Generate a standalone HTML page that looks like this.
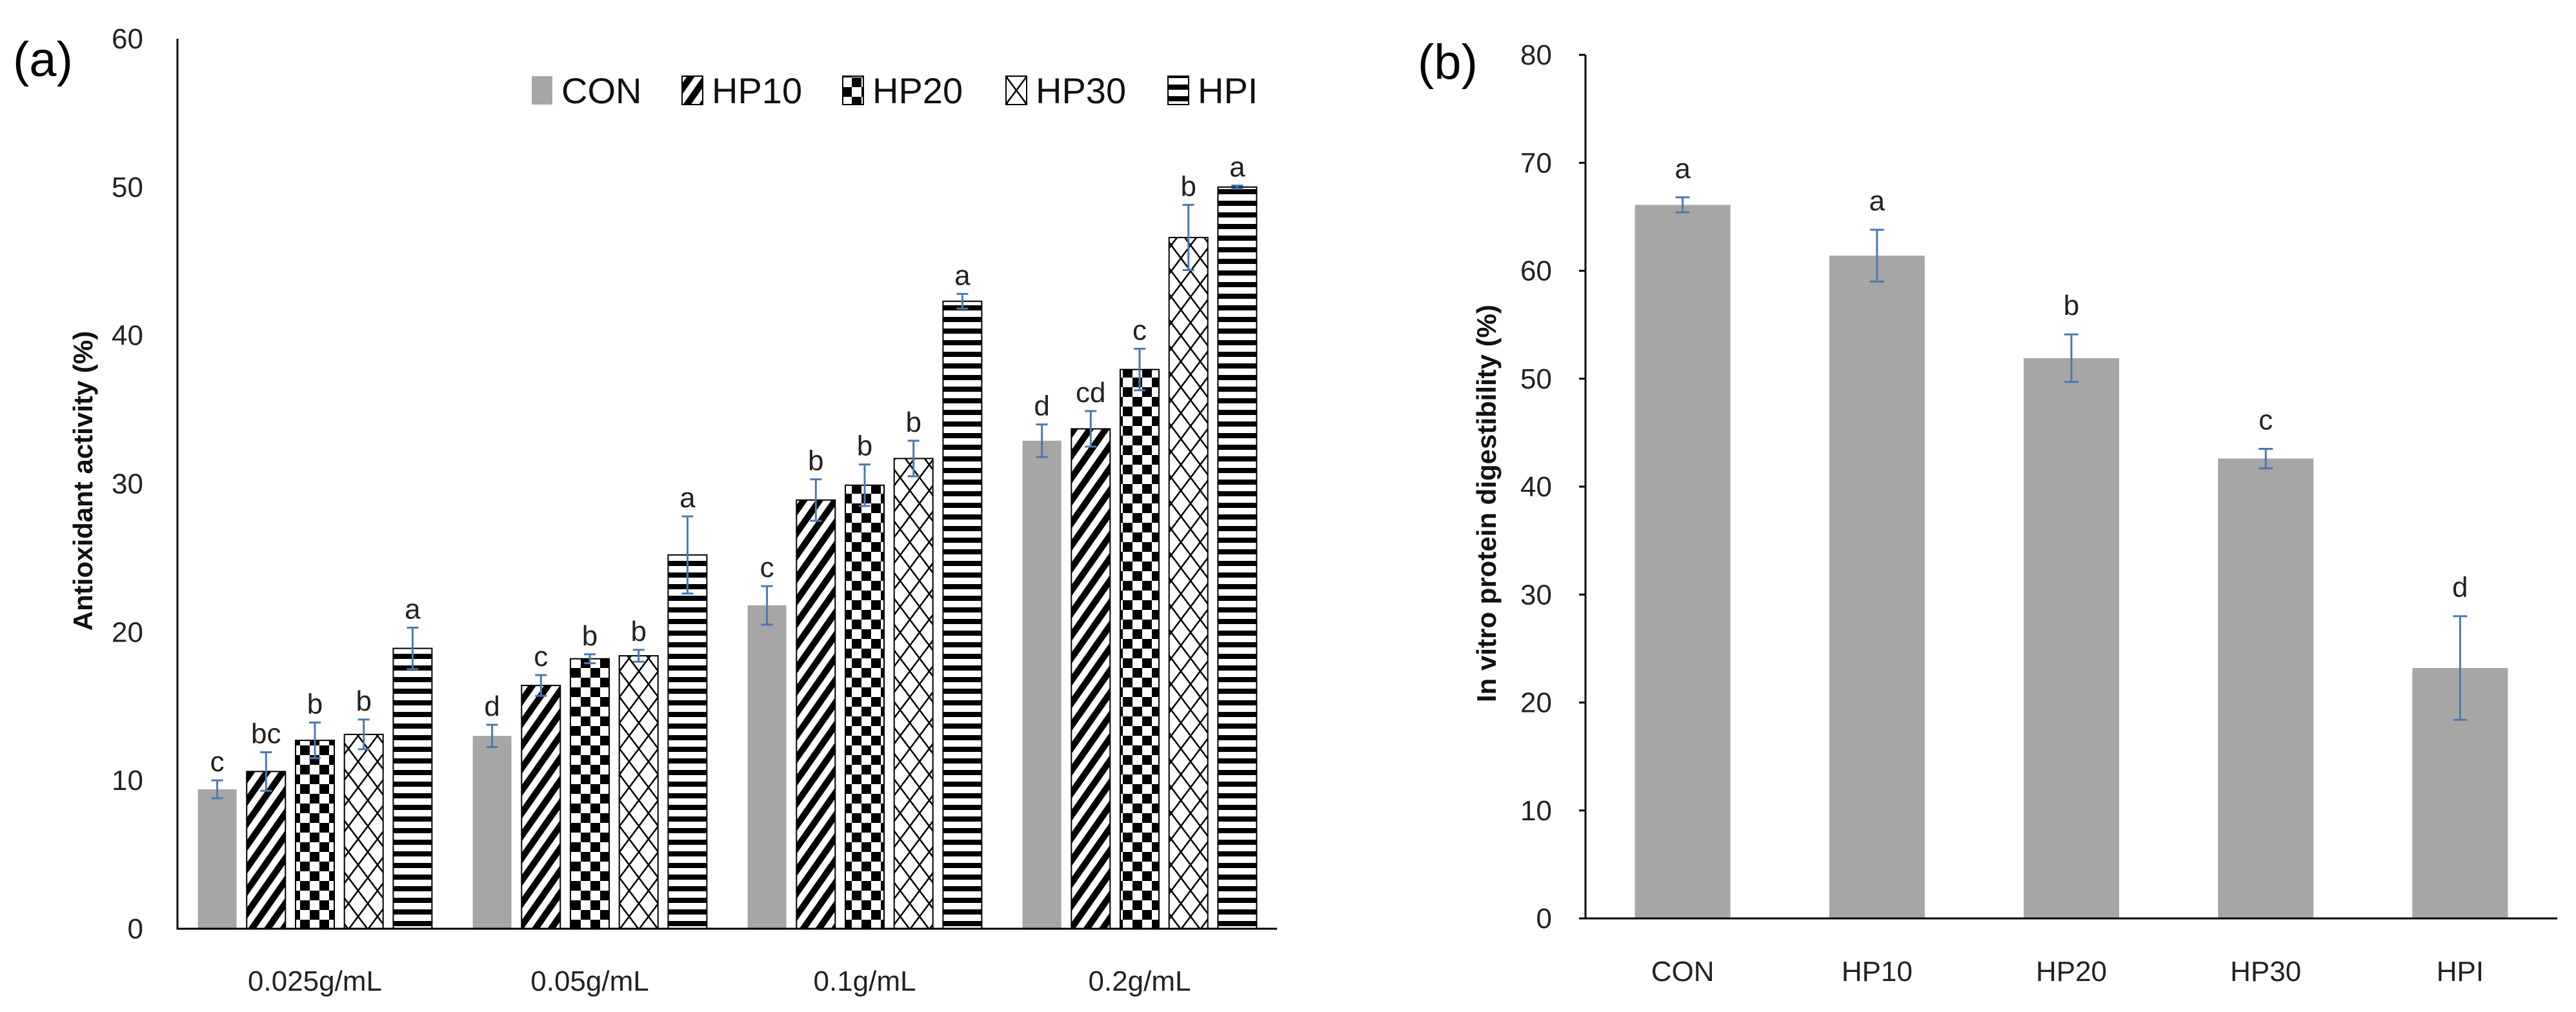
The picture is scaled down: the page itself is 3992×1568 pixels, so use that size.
<!DOCTYPE html>
<html><head><meta charset="utf-8"><style>
html,body{margin:0;padding:0;background:#fff;}
svg{display:block;font-family:"Liberation Sans",sans-serif;}
</style></head><body>
<svg id="chart" width="3992" height="1568" viewBox="0 0 3992 1568" xmlns="http://www.w3.org/2000/svg">
<defs>
<pattern id="pDiag" patternUnits="userSpaceOnUse" width="20" height="20" patternTransform="rotate(35)">
<rect width="20" height="20" fill="#fff"/><rect width="10" height="20" fill="#000"/></pattern>
<pattern id="pCheck" patternUnits="userSpaceOnUse" width="30" height="30">
<rect width="30" height="30" fill="#fff"/><rect width="15" height="15" fill="#000"/><rect x="15" y="15" width="15" height="15" fill="#000"/></pattern>
<pattern id="pCross" patternUnits="userSpaceOnUse" width="30" height="40">
<rect width="30" height="40" fill="#fff"/><path d="M0 0L30 40M30 0L0 40" stroke="#000" stroke-width="2.5"/></pattern>
<pattern id="pHor" patternUnits="userSpaceOnUse" width="20" height="18">
<rect width="20" height="18" fill="#fff"/><rect y="5" width="20" height="8" fill="#000"/></pattern>
</defs>
<g id="panelA"></g>
<g id="panelB"></g>
</svg>
<script>
// Panel (a) data
const aGroups = ["0.025g/mL","0.05g/mL","0.1g/mL","0.2g/mL"];
const aSeries = ["CON","HP10","HP20","HP30","HPI"];
const aCON  = [9.4, 13.0, 21.8, 32.9];
const aHP10 = [10.6, 16.4, 28.9, 33.7];
const aHP20 = [12.7, 18.2, 29.9, 37.7];
const aHP30 = [13.1, 18.4, 31.7, 46.6];
const aHPI  = [18.9, 25.2, 42.3, 50.0];
const aErrCON  = [0.6, 0.75, 1.3, 1.1];
const aErrHP10 = [1.3, 0.7, 1.4, 1.2];
const aErrHP20 = [1.2, 0.3, 1.4, 1.4];
const aErrHP30 = [1.0, 0.4, 1.2, 2.2];
const aErrHPI  = [1.4, 2.6, 0.5, 0.1];
const aLetCON  = ["c","d","c","d"];
const aLetHP10 = ["bc","c","b","cd"];
const aLetHP20 = ["b","b","b","c"];
const aLetHP30 = ["b","b","b","b"];
const aLetHPI  = ["a","a","a","a"];
const aTicks = [0,10,20,30,40,50,60];
// Panel (b) data
const bCats = ["CON","HP10","HP20","HP30","HPI"];
const bVals = [66.1, 61.4, 51.9, 42.6, 23.2];
const bErr  = [0.7, 2.4, 2.2, 0.9, 4.8];
const bLets = ["a","a","b","c","d"];
const bTicks = [0,10,20,30,40,50,60,70,80];

const NS="http://www.w3.org/2000/svg";
function mk(parent,tag,attrs,text){const e=document.createElementNS(NS,tag);for(const k in attrs)e.setAttribute(k,attrs[k]);if(text!==undefined)e.textContent=text;parent.appendChild(e);return e;}
const ERR="#4a7ab0";

// ---- Panel A ----
(function(){
const g=document.getElementById('panelA');
const x0=275,x1=1979,y0=1439,yTop=60,max=60;
const yS=v=>y0-(v-0)*(y0-yTop)/max;
const gw=(x1-x0)/aGroups.length, bw=60, step=75.7;
const fills=["#a6a6a6","url(#pDiag)","url(#pCheck)","url(#pCross)","url(#pHor)"];
const vals=[aCON,aHP10,aHP20,aHP30,aHPI];
const errs=[aErrCON,aErrHP10,aErrHP20,aErrHP30,aErrHPI];
const lets=[aLetCON,aLetHP10,aLetHP20,aLetHP30,aLetHPI];
let t=mk(g,'text',{x:20,y:118,'font-size':76},'(a)');


aTicks.forEach(v=>{const e=mk(g,'text',{x:222,y:yS(v)+15,'font-size':44,'text-anchor':'end',fill:'#222'},String(v));

});
aGroups.forEach((name,gi)=>{
 const start=x0+gi*gw+(gw-(4*step+bw))/2;
 aSeries.forEach((s,si)=>{
  const v=vals[si][gi], bx=start+si*step, by=yS(v);
  const r=mk(g,'rect',{x:bx,y:by,width:bw,height:y0-by,fill:fills[si],stroke:si?'#000':'none','stroke-width':2});
  
  
  const cx=bx+bw/2, et=yS(v+errs[si][gi]), eb=yS(v-errs[si][gi]);
  const eg=mk(g,'path',{d:`M${cx} ${et}V${eb}M${cx-9} ${et}H${cx+9}M${cx-9} ${eb}H${cx+9}`,stroke:ERR,'stroke-width':3,fill:'none'});
  
  
  const l=mk(g,'text',{x:cx,y:et-14,'font-size':44,'text-anchor':'middle',fill:'#222'},lets[si][gi]);
  
  
 });
 const xl=mk(g,'text',{x:x0+gi*gw+gw/2,y:1535,'font-size':44,'text-anchor':'middle',fill:'#222'},name);
 
 
});
const ax=mk(g,'path',{d:`M${x0} ${yTop}V${y0}H${x1}`,stroke:'#000','stroke-width':3,fill:'none'});


const yt=mk(g,'text',{x:0,y:0,'font-size':42,'font-weight':'bold','text-anchor':'middle',transform:'translate(143,745) rotate(-90)',fill:'#111'},'Antioxidant activity (%)');


const lx=[824,1057,1306,1559,1810];
aSeries.forEach((s,si)=>{
 const lg=mk(g,'g',{});
 
 
 mk(lg,'rect',{x:lx[si],y:118,width:32,height:44,fill:fills[si],stroke:si?'#000':'none','stroke-width':2});
 mk(lg,'text',{x:lx[si]+46,y:160,'font-size':56,fill:'#111'},s);
});
})();

// ---- Panel B ----
(function(){
const g=document.getElementById('panelB');
const x0=2457,x1=3963,y0=1423,yTop=85,max=80;
const yS=v=>y0-v*(y0-yTop)/max;
const cw=(x1-x0)/bCats.length,bw=148;
let t=mk(g,'text',{x:2197,y:122,'font-size':76},'(b)');


bTicks.forEach(v=>{const e=mk(g,'text',{x:2405,y:yS(v)+15,'font-size':44,'text-anchor':'end',fill:'#222'},String(v));


const tk=mk(g,'line',{x1:x0-10,x2:x0,y1:yS(v),y2:yS(v),stroke:'#000','stroke-width':3});

});
bCats.forEach((c,i)=>{
 const cx=x0+cw*i+cw/2, by=yS(bVals[i]);
 const r=mk(g,'rect',{x:cx-bw/2,y:by,width:bw,height:y0-by,fill:'#a6a6a6'});
 
 
 const et=yS(bVals[i]+bErr[i]), eb=yS(bVals[i]-bErr[i]);
 const e=mk(g,'path',{d:`M${cx} ${et}V${eb}M${cx-11} ${et}H${cx+11}M${cx-11} ${eb}H${cx+11}`,stroke:ERR,'stroke-width':3,fill:'none'});
 
 
 const l=mk(g,'text',{x:cx,y:et-30,'font-size':44,'text-anchor':'middle',fill:'#222'},bLets[i]);
 
 
 const xl=mk(g,'text',{x:cx,y:1520,'font-size':44,'text-anchor':'middle',fill:'#222'},c);
 
 
});
const ax=mk(g,'path',{d:`M${x0} ${yTop}V${y0}H${x1}`,stroke:'#000','stroke-width':3,fill:'none'});


const yt=mk(g,'text',{x:0,y:0,'font-size':42,'font-weight':'bold','text-anchor':'middle',transform:'translate(2318,780) rotate(-90)',fill:'#111'},'In vitro protein digestibility (%)');


})();
</script>
</body></html>
